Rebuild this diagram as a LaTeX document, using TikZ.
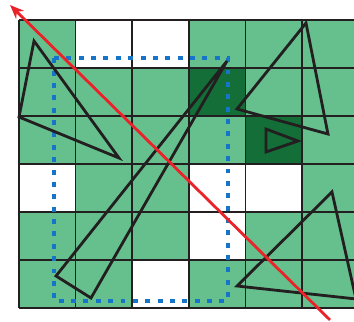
\documentclass[tikz,border=0pt]{standalone}
\usepackage{tikz}
\usetikzlibrary{arrows.meta}
\definecolor{cellgreen}{RGB}{102,192,141}
\definecolor{darkcell}{RGB}{19,111,55}
\definecolor{boxblue}{RGB}{22,117,200}
\definecolor{rayred}{RGB}{234,35,42}
\definecolor{inkgray}{RGB}{35,31,32}
\tikzset{gridline/.style={draw=inkgray,line width=1.1pt},
tri/.style={draw=inkgray,line width=2pt},
bbox/.style={draw=boxblue,line width=3.5pt,dash pattern=on 3.5pt off 5.3pt},
ray/.style={draw=rayred,line width=2pt,-{Stealth[length=10pt,width=8pt]}}}

\begin{document}
\begin{tikzpicture}[x=1.415cm,y=1.2cm]
\useasboundingbox(-0.336,-0.292)rectangle(5.919,6.417);
\clip(-0.336,-0.292)rectangle(5.919,6.417);
\fill[cellgreen](0,0)rectangle(6,6);
\foreach\i/\j in{1/5,2/5,0/2,3/2,4/2,3/1,2/0}{\fill[white](\i,\j)rectangle++(1,1);}
\foreach\i/\j in{3/4,4/3}{\fill[darkcell](\i,\j)rectangle++(1,1);}
\foreach\i in{0,...,6}{\draw[gridline](\i,0)--(\i,6);\draw[gridline](0,\i)--(6,\i);}
\draw[bbox](0.618,5.208)--(3.693,5.208)--(3.693,0.146)--(0.618,0.146)--cycle;
\draw[tri](0.265,5.563)--(0,3.979)--(1.767,3.125)--cycle;
\draw[tri](3.675,5.146)--(0.654,0.667)--(1.272,0.208)--cycle;
\draw[tri](5.071,5.938)--(3.852,4.146)--(5.459,3.625)--cycle;
\draw[tri](4.364,3.729)--(4.364,3.25)--(4.929,3.479)--cycle;
\draw[tri](5.53,2.417)--(3.852,0.458)--(5.954,0.188)--cycle;
\draw[ray](5.495,-0.25)--(-0.159,6.313);
\end{tikzpicture}
\end{document}
